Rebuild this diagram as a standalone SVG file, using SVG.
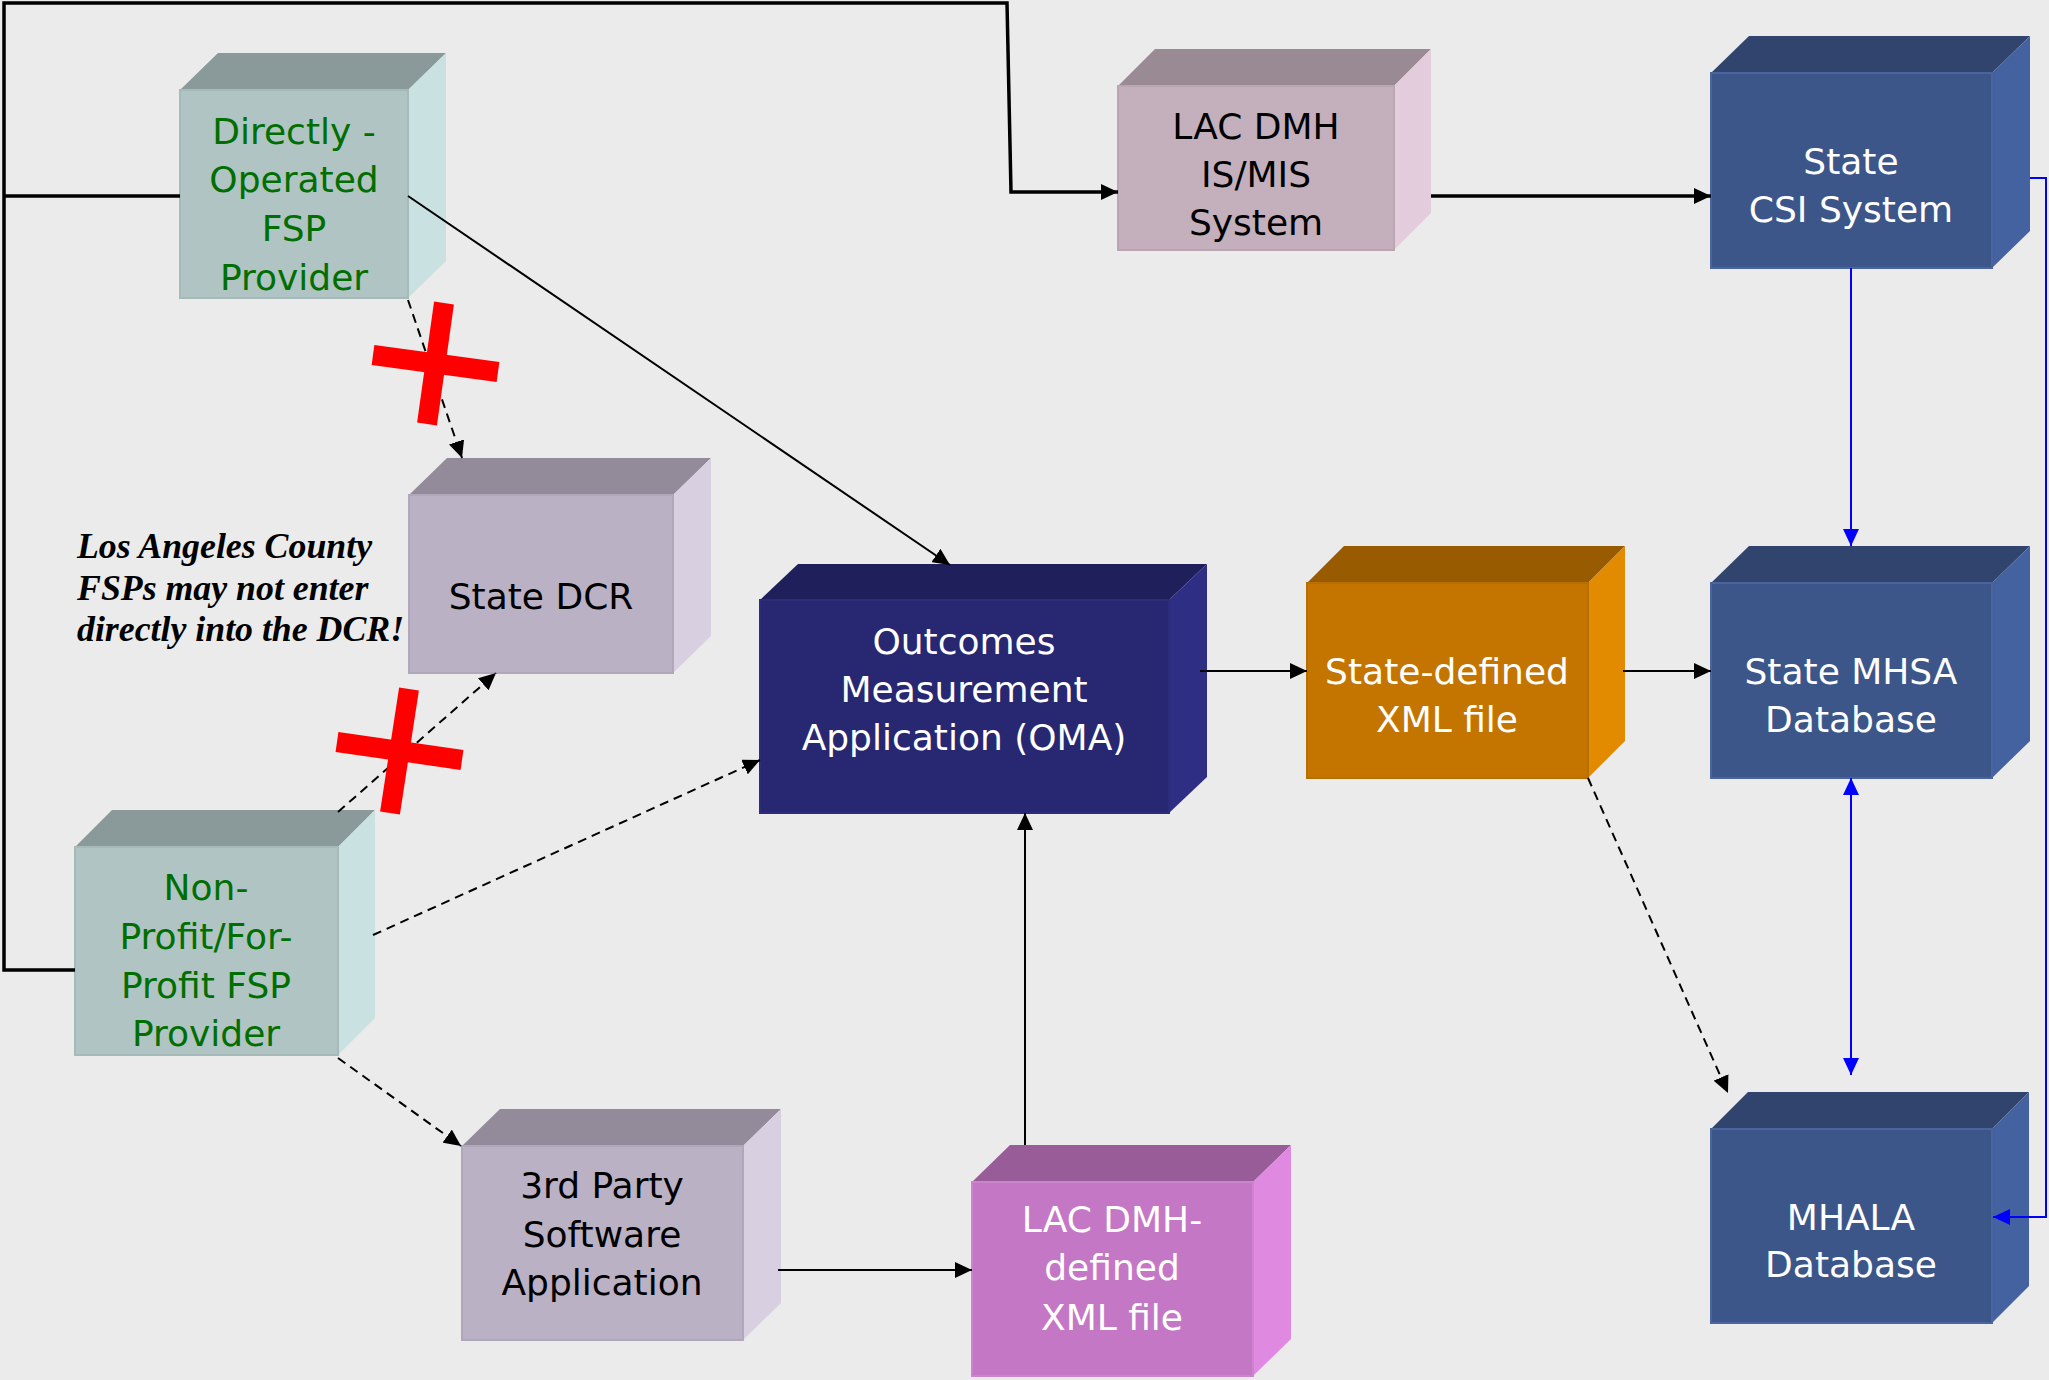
<svg xmlns="http://www.w3.org/2000/svg" width="2049" height="1380" viewBox="0 0 2049 1380">
<defs>
<style>
.t{font-family:"DejaVu Sans",Verdana,sans-serif;font-size:36px;text-anchor:middle}
.w{fill:#ffffff}.k{fill:#000000}.g{fill:#006e00}
.note{font-family:"Liberation Serif","Times New Roman",serif;font-size:35.8px;font-weight:bold;font-style:italic;fill:#000}
.thick{stroke:#000;stroke-width:3.5;fill:none}
.solid{stroke:#000;stroke-width:2;fill:none}
.dash{stroke:#000;stroke-width:2;fill:none;stroke-dasharray:9 6}
.blue{stroke:#0000ff;stroke-width:2;fill:none}
.x{stroke:#ff0000;stroke-width:20;fill:none}
.fsp .f{fill:#b0c4c4;stroke:#a6baba;stroke-width:2}.fsp .tp{fill:#8a9a9a}.fsp .sd{fill:#c9e1e1}
.lav .f{fill:#bab1c4;stroke:#b0a7ba;stroke-width:2}.lav .tp{fill:#938b99}.lav .sd{fill:#d8cfe1}
.mau .f{fill:#c4b0bc;stroke:#baa6b2;stroke-width:2}.mau .tp{fill:#9a8a94}.mau .sd{fill:#e3cddc}
.nav .f{fill:#272772;stroke:#2c2c7a;stroke-width:2}.nav .tp{fill:#1f1f5b}.nav .sd{fill:#2e2e85}
.org .f{fill:#c47500;stroke:#b86e00;stroke-width:2}.org .tp{fill:#995b00}.org .sd{fill:#e28a00}
.blu .f{fill:#3c5689;stroke:#4a64a0;stroke-width:2}.blu .tp{fill:#30446e}.blu .sd{fill:#4461a0}
.pnk .f{fill:#c477c4;stroke:#cc84cc;stroke-width:2}.pnk .tp{fill:#985d98}.pnk .sd{fill:#e089e0}
</style>
<marker id="ah" viewBox="0 0 17 16" refX="17" refY="8" markerWidth="17" markerHeight="16" markerUnits="userSpaceOnUse" orient="auto"><path d="M0,0 L17,8 L0,16 z" fill="#000"/></marker>
<marker id="ahb" viewBox="0 0 17 16" refX="17" refY="8" markerWidth="17" markerHeight="16" markerUnits="userSpaceOnUse" orient="auto"><path d="M0,0 L17,8 L0,16 z" fill="#0000ff"/></marker>
<marker id="ahbs" viewBox="0 0 17 16" refX="0" refY="8" markerWidth="17" markerHeight="16" markerUnits="userSpaceOnUse" orient="auto"><path d="M17,0 L0,8 L17,16 z" fill="#0000ff"/></marker>
</defs>
<rect x="0" y="0" width="2049" height="1380" fill="#ebebeb"/>

<g id="node-directly" class="fsp">
<polygon class="tp" points="180,90 218,53 446,53 408,90"/>
<polygon class="sd" points="408,90 446,53 446,261 408,298"/>
<rect class="f" x="180" y="90" width="228" height="208"/>
<text class="t g" x="294" y="144">Directly -</text>
<text class="t g" x="294" y="192">Operated</text>
<text class="t g" x="294" y="241">FSP</text>
<text class="t g" x="294" y="290">Provider</text>
</g>

<g id="node-dcr" class="lav">
<polygon class="tp" points="409,495 447,458 711,458 673,495"/>
<polygon class="sd" points="673,495 711,458 711,636 673,673"/>
<rect class="f" x="409" y="495" width="264" height="178"/>
<text class="t k" x="541" y="609">State DCR</text>
</g>

<g id="node-nonprofit" class="fsp">
<polygon class="tp" points="75,847 112,810 375,810 338,847"/>
<polygon class="sd" points="338,847 375,810 375,1018 338,1055"/>
<rect class="f" x="75" y="847" width="263" height="208"/>
<text class="t g" x="206" y="900">Non-</text>
<text class="t g" x="206" y="949">Profit/For-</text>
<text class="t g" x="206" y="998">Profit FSP</text>
<text class="t g" x="206" y="1046">Provider</text>
</g>

<g id="node-3rdparty" class="lav">
<polygon class="tp" points="462,1146 500,1109 781,1109 743,1146"/>
<polygon class="sd" points="743,1146 781,1109 781,1303 743,1340"/>
<rect class="f" x="462" y="1146" width="281" height="194"/>
<text class="t k" x="602" y="1198">3rd Party</text>
<text class="t k" x="602" y="1247">Software</text>
<text class="t k" x="602" y="1295">Application</text>
</g>

<g id="node-lacxml" class="pnk">
<polygon class="tp" points="972,1182 1010,1145 1291,1145 1253,1182"/>
<polygon class="sd" points="1253,1182 1291,1145 1291,1339 1253,1376"/>
<rect class="f" x="972" y="1182" width="281" height="194"/>
<text class="t w" x="1112" y="1232">LAC DMH-</text>
<text class="t w" x="1112" y="1280">defined</text>
<text class="t w" x="1112" y="1330">XML file</text>
</g>

<g id="node-oma" class="nav">
<polygon class="tp" points="760,600 798,564 1207,564 1169,600"/>
<polygon class="sd" points="1169,600 1207,564 1207,777 1169,813"/>
<rect class="f" x="760" y="600" width="409" height="213"/>
<text class="t w" x="964" y="654">Outcomes</text>
<text class="t w" x="964" y="702">Measurement</text>
<text class="t w" x="964" y="750">Application (OMA)</text>
</g>

<g id="node-statexml" class="org">
<polygon class="tp" points="1307,583 1344,546 1625,546 1588,583"/>
<polygon class="sd" points="1588,583 1625,546 1625,741 1588,778"/>
<rect class="f" x="1307" y="583" width="281" height="195"/>
<text class="t w" x="1447" y="684">State-defined</text>
<text class="t w" x="1447" y="732">XML file</text>
</g>

<g id="node-ismis" class="mau">
<polygon class="tp" points="1118,86 1155,49 1431,49 1394,86"/>
<polygon class="sd" points="1394,86 1431,49 1431,213 1394,250"/>
<rect class="f" x="1118" y="86" width="276" height="164"/>
<text class="t k" x="1256" y="139">LAC DMH</text>
<text class="t k" x="1256" y="187">IS/MIS</text>
<text class="t k" x="1256" y="235">System</text>
</g>

<g id="node-csi" class="blu">
<polygon class="tp" points="1711,73 1749,36 2030,36 1992,73"/>
<polygon class="sd" points="1992,73 2030,36 2030,231 1992,268"/>
<rect class="f" x="1711" y="73" width="281" height="195"/>
<text class="t w" x="1851" y="174">State</text>
<text class="t w" x="1851" y="222">CSI System</text>
</g>

<g id="node-mhsa" class="blu">
<polygon class="tp" points="1711,583 1749,546 2030,546 1992,583"/>
<polygon class="sd" points="1992,583 2030,546 2030,741 1992,778"/>
<rect class="f" x="1711" y="583" width="281" height="195"/>
<text class="t w" x="1851" y="684">State MHSA</text>
<text class="t w" x="1851" y="732">Database</text>
</g>

<g id="node-mhala" class="blu">
<polygon class="tp" points="1711,1129 1748,1092 2029,1092 1992,1129"/>
<polygon class="sd" points="1992,1129 2029,1092 2029,1286 1992,1323"/>
<rect class="f" x="1711" y="1129" width="281" height="194"/>
<text class="t w" x="1851" y="1230">MHALA</text>
<text class="t w" x="1851" y="1277">Database</text>
</g>

<g id="note">
<text class="note" x="77" y="558">Los Angeles County</text>
<text class="note" x="77" y="600">FSPs may not enter</text>
<text class="note" x="77" y="641">directly into the DCR!</text>
</g>

<g id="connectors">
<polyline class="thick" points="180,196 4,196"/>
<polyline class="thick" points="75,970 4,970 4,3 1007,3 1011,192 1118,192" marker-end="url(#ah)"/>
<line class="thick" x1="1431" y1="196" x2="1711" y2="196" marker-end="url(#ah)"/>
<line class="solid" x1="408" y1="196" x2="950" y2="565" marker-end="url(#ah)"/>
<line class="dash" x1="408" y1="300" x2="462" y2="458" marker-end="url(#ah)"/>
<line class="dash" x1="338" y1="812" x2="496" y2="673" marker-end="url(#ah)"/>
<line class="dash" x1="373" y1="935" x2="760" y2="760" marker-end="url(#ah)"/>
<line class="dash" x1="338" y1="1058" x2="461" y2="1146" marker-end="url(#ah)"/>
<line class="solid" x1="778" y1="1270" x2="972" y2="1270" marker-end="url(#ah)"/>
<line class="solid" x1="1025" y1="1145" x2="1025" y2="813" marker-end="url(#ah)"/>
<line class="solid" x1="1200" y1="671" x2="1307" y2="671" marker-end="url(#ah)"/>
<line class="solid" x1="1623" y1="671" x2="1711" y2="671" marker-end="url(#ah)"/>
<line class="dash" x1="1588" y1="778" x2="1728" y2="1093" marker-end="url(#ah)"/>
<line class="blue" x1="1851" y1="268" x2="1851" y2="546" marker-end="url(#ahb)"/>
<line class="blue" x1="1851" y1="778" x2="1851" y2="1075" marker-start="url(#ahbs)" marker-end="url(#ahb)"/>
<polyline class="blue" points="2030,178 2046,178 2046,1217 1993,1217" marker-end="url(#ahb)"/>
</g>

<g id="crosses">
<line class="x" x1="444" y1="303" x2="427" y2="424"/>
<line class="x" x1="373" y1="355" x2="498" y2="372"/>
<line class="x" x1="409" y1="689" x2="390" y2="813"/>
<line class="x" x1="337" y1="742" x2="462" y2="760"/>
</g>
</svg>
